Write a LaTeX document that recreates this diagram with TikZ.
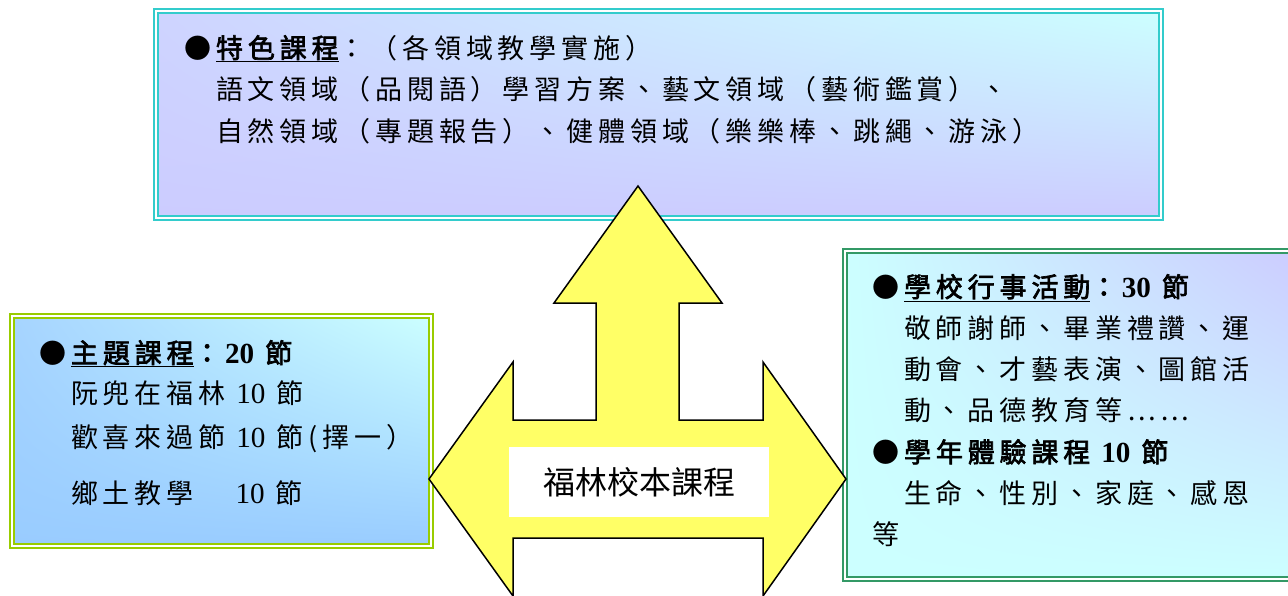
\documentclass[tikz,border=0pt]{standalone}
\usepackage{fontspec}
\usetikzlibrary{shadings}
\setmainfont{Noto Sans CJK TC}[LetterSpace=18,AutoFakeBold=2.5]
\newfontfamily\numfont{Liberation Serif}[Scale=1.08]
\newfontfamily\rotulofont{Noto Sans CJK TC}
\definecolor{turquesa}{HTML}{33CCCC}
\definecolor{verdelima}{HTML}{99CC00}
\definecolor{verdemar}{HTML}{339966}
\definecolor{amarillo}{HTML}{FFFF66}
\definecolor{lavanda}{HTML}{CCCCFF}
\definecolor{lavandaclara}{HTML}{CED4FF}
\definecolor{celeste}{HTML}{CCFFFF}
\definecolor{azulclaro}{HTML}{99CCFF}
\definecolor{azulmedio}{HTML}{A6D4FF}
\newcommand{\cifra}[1]{{\numfont #1}}

\begin{document}
\begin{tikzpicture}[x=1pt,y=-1pt,
				caja/.style={double=white,double distance=2pt,line width=2pt},
				texto/.style={anchor=base west,inner sep=0pt,font=\fontsize{27}{41.5}\selectfont},
				flecha/.style={fill=amarillo,draw=black,line width=1.5pt,line join=miter},
				rotulo/.style={fill=white,inner sep=0pt,minimum width=260pt,minimum height=70pt,
					font=\rotulofont\fontsize{32}{38}\selectfont}]
	      \useasboundingbox (0,0) rectangle (1288,595);
	      \clip (0,0) rectangle (1288,595);
	      % Cajas
	      \shadedraw[caja,draw=turquesa,upper left=lavandaclara,upper right=celeste,
			lower left=lavanda,lower right=lavanda] (156,11) rectangle (1161,218);
	      \shadedraw[caja,draw=verdelima,upper left=azulmedio,upper right=celeste,
			lower left=azulclaro,lower right=azulclaro] (12,316) rectangle (431,546);
	      \shadedraw[caja,draw=verdemar,upper left=celeste,upper right=lavanda,
			lower left=celeste,lower right=celeste] (845,251) rectangle (1296,579);
	      % Flecha de tres puntas
	      \draw[flecha] (638,186) -- (722,303) -- (679,303) -- (679,420) -- (763,420)
		-- (763,362) -- (846,479) -- (763,596) -- (763,538) -- (513,538) -- (513,596)
		-- (429,479) -- (513,362) -- (513,420) -- (596,420) -- (596,303) -- (554,303) -- cycle;
	      \node[rotulo] (rotulo) at (639,482) {福林校本課程};
	      % Textos
	      \node[texto] (especial) at (184,58) {%
		  \begin{tabular}[t]{@{}l@{}}
		      ●\textbf{\underline{特色課程}}：（各領域教學實施）\\
		      　語文領域（品閱語）學習方案、藝文領域（藝術鑑賞）、\\
		      　自然領域（專題報告）、健體領域（樂樂棒、跳繩、游泳）
		   \end{tabular}
	      };
	      \node[texto,font=\fontsize{27}{40}\selectfont] (tema) at (39,363) {%
		  \begin{tabular}[t]{@{}l@{}}
		      ●\textbf{\underline{主題課程}：\,\cifra{20} 節}\\
		      　阮兜在福林 \cifra{10} 節\\[4pt]
		      　歡喜來過節 \cifra{10} 節(擇一）\\[16pt]
		      　鄉土教學\hspace{42pt}\cifra{10} 節
		   \end{tabular}
	      };
	      \node[texto,font=\fontsize{27}{41.3}\selectfont] (actividades) at (872,297) {%
		  \begin{tabular}[t]{@{}l@{}}
		      ●\textbf{\underline{學校行事活動}：\,\cifra{30} 節}\\
		      　敬師謝師、畢業禮讚、運\\
		      　動會、才藝表演、圖館活\\
		      　動、品德教育等……\\
		      ●\textbf{學年體驗課程 \cifra{10} 節}\\
		      　生命、性別、家庭、感恩\\
		      等
		   \end{tabular}
	      };
\end{tikzpicture}
\end{document}
